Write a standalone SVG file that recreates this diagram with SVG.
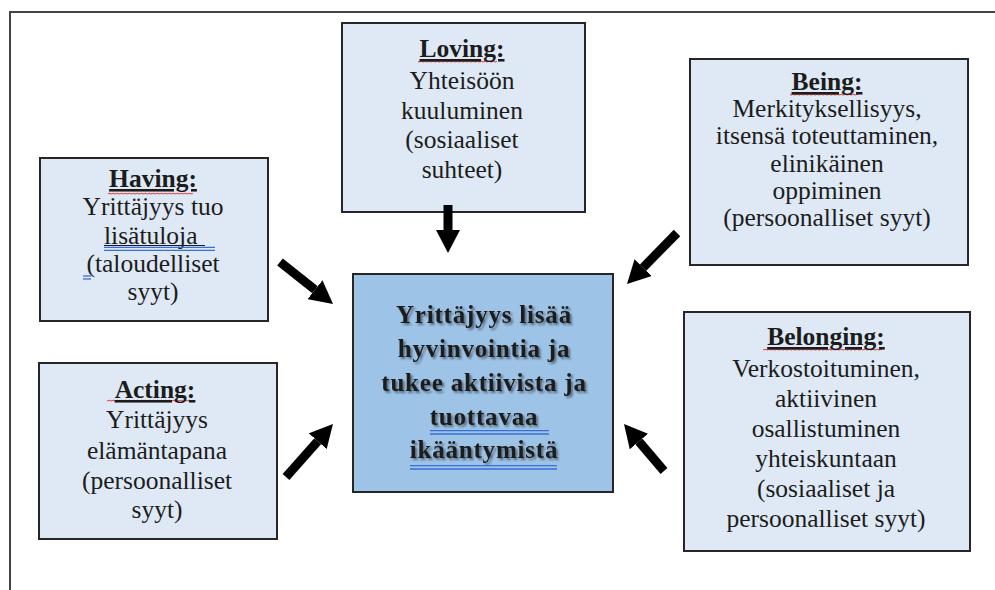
<svg xmlns="http://www.w3.org/2000/svg" width="995" height="590" viewBox="0 0 995 590">
<defs>
<style>
.box{fill:#dee9f5;stroke:#262626;stroke-width:2}
.core{fill:#9dc3e6;stroke:#262626;stroke-width:2}
.t{font-family:'Liberation Serif','Times New Roman','DejaVu Serif',serif;font-size:25.5px;fill:#1c1c1c;text-anchor:middle}
.h{font-weight:bold;text-decoration:underline}
.c{font-weight:bold;font-size:25px;letter-spacing:0.8px}
.arrow{stroke:#000;stroke-width:9;fill:none;marker-end:url(#head)}
.blue{stroke:#3a6fd8;stroke-width:1.3}
.wave{fill:url(#wavy)}
.frame{stroke:#444;stroke-width:2}
</style>
<marker id="head" markerUnits="userSpaceOnUse" markerWidth="23" markerHeight="24" refX="0" refY="12" orient="auto">
<path d="M0,0 L23,12 L0,24 Z" fill="#000"/>
</marker>
<pattern id="wavy" patternUnits="userSpaceOnUse" width="4" height="3">
<path d="M0,2.3 Q1,0.2 2,1.5 T4,1.5" fill="none" stroke="#e02020" stroke-width="0.9"/>
</pattern>
<filter id="shadow" x="-10%" y="-20%" width="125%" height="150%">
<feGaussianBlur in="SourceAlpha" stdDeviation="1.2"/>
<feOffset dx="1.5" dy="1.5" result="b"/>
<feFlood flood-color="#000" flood-opacity="0.45"/>
<feComposite in2="b" operator="in"/>
<feMerge><feMergeNode/><feMergeNode in="SourceGraphic"/></feMerge>
</filter>
</defs>

<g id="frame">
<line class="frame" x1="10" y1="12" x2="995" y2="12"/>
<line class="frame" x1="10" y1="11" x2="10" y2="590"/>
</g>

<g id="node-having">
<rect class="box" x="40" y="158" width="228" height="163"/>
<rect class="wave" x="108" y="192" width="85" height="3"/>
<text class="t" x="153" y="187"><tspan class="h">Having:</tspan></text>
<text class="t" x="153" y="215">Yrittäjyys tuo</text>
<text class="t" x="104" y="244" style="text-anchor:start">lisätuloja</text>
<line x1="104" y1="245.5" x2="205" y2="245.5" stroke="#1c1c1c" stroke-width="1.2"/>
<line class="blue" x1="104" y1="247.3" x2="215" y2="247.3"/>
<line class="blue" x1="104" y1="250.3" x2="215" y2="250.3"/>
<text class="t" x="153" y="272">(taloudelliset</text>
<line class="blue" x1="83" y1="276" x2="91" y2="276"/>
<line class="blue" x1="83" y1="279" x2="91" y2="279"/>
<text class="t" x="153" y="300">syyt)</text>
</g>

<g id="node-loving">
<rect class="box" x="342" y="23" width="243" height="189"/>
<rect class="wave" x="418" y="60" width="79" height="3"/>
<text class="t" x="462" y="57"><tspan class="h">Loving:</tspan></text>
<text class="t" x="462" y="89">Yhteisöön</text>
<text class="t" x="462" y="119">kuuluminen</text>
<text class="t" x="462" y="148">(sosiaaliset</text>
<text class="t" x="462" y="178">suhteet)</text>
</g>

<g id="node-being">
<rect class="box" x="690" y="59" width="278" height="206"/>
<rect class="wave" x="790" y="93" width="68" height="3"/>
<text class="t" x="827" y="90"><tspan class="h">Being:</tspan></text>
<text class="t" x="827" y="117">Merkityksellisyys,</text>
<text class="t" x="827" y="144">itsensä toteuttaminen,</text>
<text class="t" x="827" y="172">elinikäinen</text>
<text class="t" x="827" y="199">oppiminen</text>
<text class="t" x="827" y="226">(persoonalliset syyt)</text>
</g>

<g id="node-acting">
<rect class="box" x="39" y="363" width="238" height="176"/>
<rect class="wave" x="107" y="399" width="86" height="3"/>
<text class="t" x="155" y="398"><tspan class="h">Acting:</tspan></text>
<text class="t" x="157" y="428">Yrittäjyys</text>
<text class="t" x="157" y="459">elämäntapana</text>
<text class="t" x="157" y="489">(persoonalliset</text>
<text class="t" x="157" y="518">syyt)</text>
</g>

<g id="node-belonging">
<rect class="box" x="684" y="312" width="286" height="239"/>
<rect class="wave" x="763" y="348" width="119" height="3"/>
<text class="t" x="826" y="345"><tspan class="h">Belonging:</tspan></text>
<text class="t" x="826" y="377">Verkostoituminen,</text>
<text class="t" x="826" y="407">aktiivinen</text>
<text class="t" x="826" y="437">osallistuminen</text>
<text class="t" x="826" y="467">yhteiskuntaan</text>
<text class="t" x="826" y="497">(sosiaaliset ja</text>
<text class="t" x="826" y="527">persoonalliset syyt)</text>
</g>

<g id="node-center">
<rect class="core" x="353" y="274" width="260" height="218"/>
<g filter="url(#shadow)">
<text class="t c" x="484" y="323">Yrittäjyys lisää</text>
<text class="t c" x="484" y="357">hyvinvointia ja</text>
<text class="t c" x="484" y="391">tukee aktiivista ja</text>
<text class="t c" x="484" y="425">tuottavaa</text>
<text class="t c" x="484" y="458">ikääntymistä</text>
</g>
<line class="blue" x1="430" y1="430.7" x2="549" y2="430.7"/>
<line class="blue" x1="430" y1="434" x2="549" y2="434"/>
<line class="blue" x1="410" y1="465.7" x2="557" y2="465.7"/>
<line class="blue" x1="410" y1="469" x2="557" y2="469"/>
</g>

<g id="connectors">
<line class="arrow" x1="448" y1="205" x2="448" y2="230"/>
<line class="arrow" x1="280" y1="262" x2="315" y2="289.7"/>
<line class="arrow" x1="286" y1="477" x2="317.7" y2="441.2"/>
<line class="arrow" x1="677" y1="233" x2="643.1" y2="267.6"/>
<line class="arrow" x1="664" y1="471" x2="638.9" y2="441.5"/>
</g>
</svg>
